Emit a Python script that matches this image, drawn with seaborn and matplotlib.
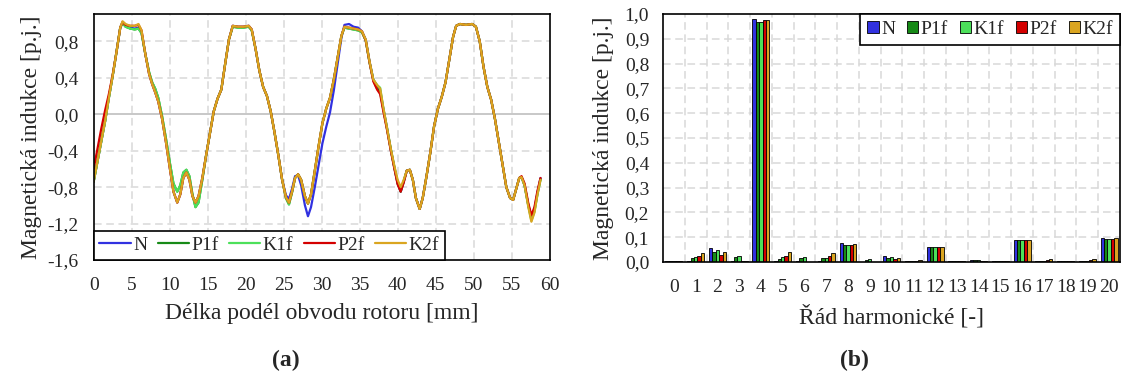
import numpy as np
import pandas as pd
import matplotlib
matplotlib.use("Agg")
import matplotlib.pyplot as plt
import seaborn as sns

# ---------------- data ----------------
SERIES = ["N", "P1f", "K1f", "P2f", "K2f"]
COLORS = ["#3131E0", "#178A17", "#4CE05A", "#D40000", "#DAA520"]

X_MM = [0.0, 0.5, 1.0, 1.5, 2.0, 2.5, 3.0, 3.5, 3.8, 4.2,
        4.8, 5.4, 5.9, 6.3, 6.8, 7.3, 7.7, 8.1, 8.5, 9.0,
        9.5, 10.0, 10.5, 11.0, 11.4, 11.8, 12.2, 12.6, 13.0, 13.4,
        13.8, 14.3, 14.8, 15.3, 15.8, 16.3, 16.8, 17.3, 17.8, 18.3,
        19.0, 19.7, 20.4, 20.8, 21.3, 21.8, 22.3, 22.8, 23.3, 23.8,
        24.3, 24.8, 25.3, 25.7, 26.1, 26.5, 26.9, 27.3, 27.8, 28.2,
        28.6, 29.1, 29.6, 30.1, 30.6, 31.1, 31.6, 32.1, 32.6, 33.0,
        33.6, 34.2, 34.8, 35.3, 35.8, 36.3, 36.8, 37.3, 37.7, 38.1,
        38.6, 39.1, 39.6, 40.0, 40.4, 40.8, 41.2, 41.6, 42.0, 42.4,
        42.9, 43.3, 43.8, 44.3, 44.8, 45.3, 45.8, 46.3, 46.8, 47.3,
        47.7, 48.2, 49.0, 49.8, 50.3, 50.8, 51.3, 51.8, 52.3, 52.8,
        53.3, 53.8, 54.3, 54.8, 55.2, 55.6, 56.0, 56.3, 56.7, 57.2,
        57.6, 58.0, 58.4, 58.8]

B_N = [-0.74, -0.52, -0.30, -0.08, 0.18, 0.42, 0.68, 0.95, 1.01, 0.97,
       0.95, 0.94, 0.95, 0.90, 0.66, 0.44, 0.33, 0.24, 0.14, -0.05,
       -0.30, -0.58, -0.85, -0.97, -0.88, -0.70, -0.64, -0.72, -0.90, -0.97,
       -0.90, -0.70, -0.45, -0.21, 0.03, 0.17, 0.27, 0.55, 0.82, 0.97,
       0.96, 0.96, 0.97, 0.93, 0.72, 0.48, 0.30, 0.20, 0.03, -0.20,
       -0.45, -0.72, -0.89, -0.93, -0.82, -0.68, -0.67, -0.78, -1.00, -1.12,
       -1.02, -0.80, -0.56, -0.32, -0.14, 0.02, 0.26, 0.55, 0.84, 0.98,
       0.99, 0.96, 0.95, 0.91, 0.82, 0.58, 0.38, 0.31, 0.26, 0.07,
       -0.15, -0.39, -0.60, -0.76, -0.85, -0.74, -0.62, -0.61, -0.72, -0.92,
       -1.04, -0.92, -0.68, -0.42, -0.13, 0.06, 0.19, 0.35, 0.60, 0.85,
       0.97, 0.99, 0.98, 0.99, 0.96, 0.80, 0.52, 0.30, 0.16, -0.05,
       -0.30, -0.55, -0.80, -0.92, -0.94, -0.82, -0.70, -0.69, -0.78, -1.00,
       -1.12, -1.04, -0.86, -0.70]

B_P1F = [-0.74, -0.52, -0.30, -0.08, 0.18, 0.42, 0.68, 0.95, 1.00, 0.96,
         0.94, 0.93, 0.94, 0.89, 0.66, 0.46, 0.35, 0.28, 0.18, -0.02,
         -0.26, -0.52, -0.76, -0.85, -0.78, -0.64, -0.61, -0.68, -0.88, -1.02,
         -0.97, -0.72, -0.45, -0.21, 0.03, 0.17, 0.27, 0.55, 0.82, 0.96,
         0.95, 0.95, 0.96, 0.92, 0.72, 0.48, 0.30, 0.20, 0.03, -0.20,
         -0.45, -0.72, -0.92, -0.99, -0.86, -0.70, -0.66, -0.72, -0.90, -0.98,
         -0.88, -0.62, -0.35, -0.10, 0.06, 0.18, 0.38, 0.62, 0.86, 0.95,
         0.94, 0.93, 0.92, 0.90, 0.81, 0.57, 0.37, 0.28, 0.24, 0.06,
         -0.16, -0.39, -0.60, -0.76, -0.85, -0.74, -0.62, -0.61, -0.72, -0.92,
         -1.04, -0.92, -0.68, -0.42, -0.13, 0.06, 0.19, 0.35, 0.60, 0.85,
         0.97, 0.99, 0.98, 0.99, 0.96, 0.80, 0.52, 0.30, 0.16, -0.05,
         -0.30, -0.55, -0.80, -0.92, -0.94, -0.82, -0.70, -0.69, -0.78, -1.00,
         -1.15, -1.06, -0.87, -0.71]

B_K1F = [-0.74, -0.52, -0.30, -0.08, 0.18, 0.42, 0.68, 0.95, 1.00, 0.96,
         0.94, 0.93, 0.94, 0.89, 0.66, 0.46, 0.35, 0.28, 0.18, -0.02,
         -0.26, -0.52, -0.76, -0.85, -0.78, -0.64, -0.61, -0.68, -0.88, -1.02,
         -0.97, -0.72, -0.45, -0.21, 0.03, 0.17, 0.27, 0.55, 0.82, 0.96,
         0.95, 0.95, 0.96, 0.92, 0.72, 0.48, 0.30, 0.20, 0.03, -0.20,
         -0.45, -0.72, -0.92, -0.99, -0.86, -0.70, -0.66, -0.72, -0.90, -0.98,
         -0.88, -0.62, -0.35, -0.10, 0.06, 0.18, 0.38, 0.62, 0.86, 0.95,
         0.94, 0.93, 0.92, 0.90, 0.81, 0.57, 0.38, 0.32, 0.29, 0.07,
         -0.15, -0.38, -0.59, -0.74, -0.83, -0.73, -0.62, -0.61, -0.72, -0.92,
         -1.04, -0.92, -0.68, -0.42, -0.13, 0.06, 0.19, 0.35, 0.60, 0.85,
         0.97, 0.99, 0.98, 0.99, 0.96, 0.80, 0.52, 0.30, 0.16, -0.05,
         -0.30, -0.55, -0.80, -0.92, -0.94, -0.82, -0.70, -0.69, -0.78, -1.01,
         -1.17, -1.07, -0.88, -0.72]

B_P2F = [-0.60, -0.38, -0.16, 0.04, 0.22, 0.43, 0.68, 0.95, 1.01, 0.98,
         0.97, 0.97, 0.98, 0.92, 0.66, 0.44, 0.33, 0.24, 0.14, -0.05,
         -0.30, -0.58, -0.85, -0.97, -0.88, -0.70, -0.64, -0.72, -0.90, -0.97,
         -0.90, -0.70, -0.45, -0.21, 0.03, 0.17, 0.27, 0.55, 0.82, 0.97,
         0.96, 0.96, 0.97, 0.93, 0.72, 0.48, 0.30, 0.20, 0.03, -0.20,
         -0.45, -0.72, -0.91, -0.97, -0.85, -0.70, -0.66, -0.72, -0.90, -0.98,
         -0.88, -0.62, -0.35, -0.10, 0.06, 0.18, 0.38, 0.62, 0.86, 0.96,
         0.95, 0.94, 0.93, 0.91, 0.81, 0.57, 0.36, 0.27, 0.22, 0.04,
         -0.17, -0.40, -0.61, -0.77, -0.85, -0.75, -0.62, -0.61, -0.72, -0.92,
         -1.04, -0.92, -0.68, -0.42, -0.13, 0.06, 0.19, 0.35, 0.60, 0.85,
         0.97, 0.99, 0.98, 0.99, 0.96, 0.80, 0.52, 0.30, 0.16, -0.05,
         -0.30, -0.55, -0.80, -0.92, -0.94, -0.82, -0.70, -0.68, -0.76, -0.98,
         -1.11, -1.02, -0.84, -0.70]

B_K2F = [-0.74, -0.52, -0.30, -0.08, 0.18, 0.42, 0.68, 0.95, 1.02, 0.99,
         0.97, 0.97, 0.99, 0.92, 0.66, 0.44, 0.33, 0.24, 0.14, -0.05,
         -0.30, -0.58, -0.85, -0.97, -0.88, -0.70, -0.64, -0.72, -0.90, -0.97,
         -0.90, -0.70, -0.45, -0.21, 0.03, 0.17, 0.27, 0.55, 0.82, 0.97,
         0.96, 0.96, 0.97, 0.93, 0.72, 0.48, 0.30, 0.20, 0.03, -0.20,
         -0.45, -0.72, -0.91, -0.97, -0.85, -0.70, -0.66, -0.72, -0.90, -0.98,
         -0.88, -0.62, -0.35, -0.10, 0.06, 0.18, 0.38, 0.62, 0.86, 0.96,
         0.95, 0.94, 0.93, 0.91, 0.82, 0.58, 0.38, 0.32, 0.28, 0.08,
         -0.15, -0.38, -0.58, -0.72, -0.80, -0.72, -0.62, -0.61, -0.72, -0.92,
         -1.04, -0.92, -0.68, -0.42, -0.13, 0.06, 0.19, 0.35, 0.60, 0.85,
         0.97, 0.99, 0.98, 0.99, 0.96, 0.80, 0.52, 0.30, 0.16, -0.05,
         -0.30, -0.55, -0.80, -0.92, -0.94, -0.82, -0.70, -0.69, -0.78, -1.02,
         -1.18, -1.08, -0.88, -0.72]

HARMONICS = [str(i) for i in range(21)]
H_N = [0.002, 0.002, 0.055, 0.002, 0.979, 0.003, 0.002, 0.002, 0.077, 0.001, 0.023,
       0.002, 0.062, 0.002, 0.008, 0.003, 0.089, 0.002, 0.002, 0.003, 0.095]
H_P1F = [0.002, 0.016, 0.040, 0.019, 0.969, 0.013, 0.016, 0.015, 0.067, 0.007, 0.017,
         0.003, 0.062, 0.002, 0.008, 0.002, 0.090, 0.004, 0.002, 0.004, 0.093]
H_K1F = [0.002, 0.020, 0.050, 0.023, 0.969, 0.019, 0.020, 0.016, 0.067, 0.011, 0.020,
         0.004, 0.062, 0.002, 0.008, 0.002, 0.090, 0.006, 0.002, 0.005, 0.093]
H_P2F = [0.002, 0.025, 0.030, 0.002, 0.976, 0.024, 0.001, 0.024, 0.067, 0.001, 0.013,
         0.005, 0.062, 0.002, 0.005, 0.002, 0.088, 0.008, 0.002, 0.007, 0.093]
H_K2F = [0.002, 0.036, 0.040, 0.002, 0.977, 0.039, 0.001, 0.038, 0.072, 0.001, 0.016,
         0.009, 0.062, 0.002, 0.006, 0.002, 0.087, 0.013, 0.002, 0.011, 0.095]

LEFT_XTICKS = [0, 5, 10, 15, 20, 25, 30, 35, 40, 45, 50, 55, 60]
LEFT_YTICKS = [-1.6, -1.2, -0.8, -0.4, 0.0, 0.4, 0.8]
LEFT_YLABELS = ["-1,6", "-1,2", "-0,8", "-0,4", "0,0", "0,4", "0,8"]
RIGHT_YTICKS = [0.0, 0.1, 0.2, 0.3, 0.4, 0.5, 0.6, 0.7, 0.8, 0.9, 1.0]
RIGHT_YLABELS = ["0,0", "0,1", "0,2", "0,3", "0,4", "0,5", "0,6", "0,7", "0,8", "0,9", "1,0"]

XLABEL_A = "Délka podél obvodu rotoru [mm]"
XLABEL_B = "Řád harmonické [-]"
YLABEL = "Magnetická indukce [p.j.]"

# ---------------- build frames ----------------
wave = [B_N, B_P1F, B_K1F, B_P2F, B_K2F]
df_line = pd.concat([pd.DataFrame({"x": X_MM, "y": w, "series": s})
                     for s, w in zip(SERIES, wave)], ignore_index=True)
harm = [H_N, H_P1F, H_K1F, H_P2F, H_K2F]
df_bar = pd.concat([pd.DataFrame({"h": HARMONICS, "v": v, "series": s})
                    for s, v in zip(SERIES, harm)], ignore_index=True)

# ---------------- style ----------------
sns.set_theme(style="white")
plt.rcParams["font.family"] = ["Liberation Serif", "DejaVu Serif"]

FS_TICK = 14
FS_LEG = 14
FS_LAB = 17
GRID = "#d9d9d9"

fig = plt.figure(figsize=(11.27, 3.85), dpi=100)
ax1 = fig.add_axes([0.0831, 0.3247, 0.4046, 0.6390])
ax2 = fig.add_axes([0.5883, 0.3195, 0.4055, 0.6442])

pal = dict(zip(SERIES, COLORS))

# ----- left: waveform -----
for x in LEFT_XTICKS[1:-1]:
    ax1.axvline(x, color=GRID, lw=1.1, ls=(0, (5, 3)), zorder=0)
for y in LEFT_YTICKS[1:]:
    if y != 0.0:
        ax1.axhline(y, color=GRID, lw=1.1, ls=(0, (5, 3)), zorder=0)
ax1.axhline(0.0, color="#bfbfbf", lw=1.2, zorder=0)

sns.lineplot(data=df_line, x="x", y="y", hue="series", hue_order=SERIES,
             palette=pal, estimator=None, sort=False, linewidth=1.6, ax=ax1)
ax1.set_xlim(0, 60)
ax1.set_ylim(-1.6, 1.1)
ax1.set_xticks(LEFT_XTICKS)
ax1.set_xticklabels([str(t) for t in LEFT_XTICKS])
ax1.set_yticks(LEFT_YTICKS)
ax1.set_yticklabels(LEFT_YLABELS)
ax1.tick_params(axis="both", length=0, labelsize=FS_TICK)
ax1.tick_params(axis="x", pad=12)
ax1.tick_params(axis="y", pad=11)
ax1.set_xlabel(XLABEL_A, fontsize=FS_LAB, labelpad=7)
ax1.set_ylabel(YLABEL, fontsize=FS_LAB, labelpad=4)
for sp in ax1.spines.values():
    sp.set_color("black")
    sp.set_linewidth(1.2)
leg1 = ax1.legend(loc="lower left", ncol=5, fontsize=FS_LEG, frameon=True,
                  fancybox=False, borderaxespad=0.0, handlelength=1.6,
                  handletextpad=0.12, columnspacing=0.55, borderpad=0.3)
leg1.get_frame().set_edgecolor("black")
leg1.get_frame().set_linewidth(1.2)
leg1.get_frame().set_alpha(1.0)

# ----- right: harmonics -----
for k in range(20):
    ax2.axvline(k + 0.5, color=GRID, lw=1.1, ls=(0, (5, 3)), zorder=0)
for y in RIGHT_YTICKS[1:-1]:
    ax2.axhline(y, color=GRID, lw=1.1, ls=(0, (5, 3)), zorder=0)

sns.barplot(data=df_bar, x="h", y="v", hue="series", hue_order=SERIES,
            order=HARMONICS, palette=pal, saturation=1, edgecolor="black",
            linewidth=0.6, width=0.78, errorbar=None, ax=ax2, zorder=2)
ax2.set_xlim(-0.5, 20.5)
ax2.set_ylim(0, 1.0)
ax2.set_yticks(RIGHT_YTICKS)
ax2.set_yticklabels(RIGHT_YLABELS)
ax2.tick_params(axis="both", length=0, labelsize=FS_TICK)
ax2.tick_params(axis="x", pad=12)
ax2.tick_params(axis="y", pad=10)
ax2.set_xlabel(XLABEL_B, fontsize=FS_LAB, labelpad=7)
ax2.set_ylabel(YLABEL, fontsize=FS_LAB, labelpad=8)
for sp in ax2.spines.values():
    sp.set_color("black")
    sp.set_linewidth(1.2)
leg2 = ax2.legend(loc="upper right", ncol=5, fontsize=FS_LEG, frameon=True,
                  fancybox=False, borderaxespad=0.0, handlelength=0.6,
                  handleheight=0.6, handletextpad=0.12, columnspacing=0.6,
                  borderpad=0.35)
leg2.get_frame().set_edgecolor("black")
leg2.get_frame().set_linewidth(1.2)
leg2.get_frame().set_alpha(1.0)

fig.text(0.254, 0.065, "(a)", ha="center", va="center", fontsize=17, fontweight="bold")
fig.text(0.758, 0.065, "(b)", ha="center", va="center", fontsize=17, fontweight="bold")

fig.savefig("out.png", dpi=100)
